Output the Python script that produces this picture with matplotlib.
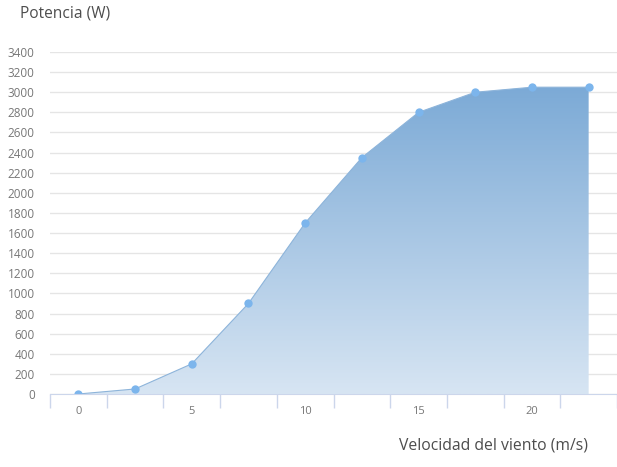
import numpy as np
import matplotlib.pyplot as plt
from matplotlib.patches import Polygon
from matplotlib.colors import LinearSegmentedColormap

# power curve of the turbine
wind_speed = [0, 2.5, 5, 7.5, 10, 12.5, 15, 17.5, 20, 22.5]
power = [0, 50, 300, 900, 1700, 2350, 2800, 3000, 3050, 3050]
x_labels = [0, 5, 10, 15, 20]
y_ticks = list(range(0, 3401, 200))

plt.rcParams['font.family'] = ['Open Sans', 'DejaVu Sans']

fig = plt.figure(figsize=(6.17, 4.67), dpi=100)
ax = fig.add_axes([50 / 617, 73 / 467, 567 / 617, 342 / 467])

step = wind_speed[1] - wind_speed[0]
ax.set_xlim(wind_speed[0] - step / 2, wind_speed[-1] + step / 2)
ax.set_ylim(0, 3400)

# area with vertical gradient, clipped to the curve
verts = [(wind_speed[0], 0)] + list(zip(wind_speed, power)) + [(wind_speed[-1], 0)]
poly = Polygon(verts, closed=True, facecolor='none', edgecolor='none')
ax.add_patch(poly)
cmap = LinearSegmentedColormap.from_list('fill', ['#d7e5f3', '#7caad6'])
grad = np.linspace(0, 1, 256).reshape(-1, 1)
img = ax.imshow(grad, cmap=cmap, origin='lower', aspect='auto',
                extent=[wind_speed[0], wind_speed[-1], 0, max(power)], zorder=2)
img.set_clip_path(poly)

ax.plot(wind_speed, power, color='#8db4da', lw=0.8, zorder=3)
ax.plot(wind_speed, power, 'o', color='#7cb5ec', ms=6, mec='none', zorder=4)

# grid drawn translucent so it shows faintly through the area
ax.set_yticks(y_ticks)
ax.set_yticklabels([str(v) for v in y_ticks])
ax.grid(axis='y', color='#737373', alpha=0.18, lw=1, zorder=2.5)
for s in ['top', 'right', 'left']:
    ax.spines[s].set_visible(False)
ax.spines['bottom'].set_color('#ccd6eb')
ax.spines['bottom'].set_zorder(5)

ax.set_xticks(x_labels)
ax.set_xticklabels([str(v) for v in x_labels])
boundaries = [w - step / 2 for w in wind_speed] + [wind_speed[-1] + step / 2]
ax.set_xticks(boundaries, minor=True)
ax.tick_params(axis='x', which='major', length=0, pad=9, labelsize=8, labelcolor='#777777')
ax.tick_params(axis='x', which='minor', length=10, color='#ccd6eb', width=1)
ax.tick_params(axis='y', length=0, pad=11, labelsize=8.5, labelcolor='#777777')

fig.text(20 / 617, 1 - 14 / 467, 'Potencia (W)', fontsize=11.2, color='#4d4d4d', va='center')
fig.text(588 / 617, 1 - 445 / 467, 'Velocidad del viento (m/s)', fontsize=11.3,
         color='#4d4d4d', ha='right', va='center')

fig.savefig('out.png', dpi=100)
